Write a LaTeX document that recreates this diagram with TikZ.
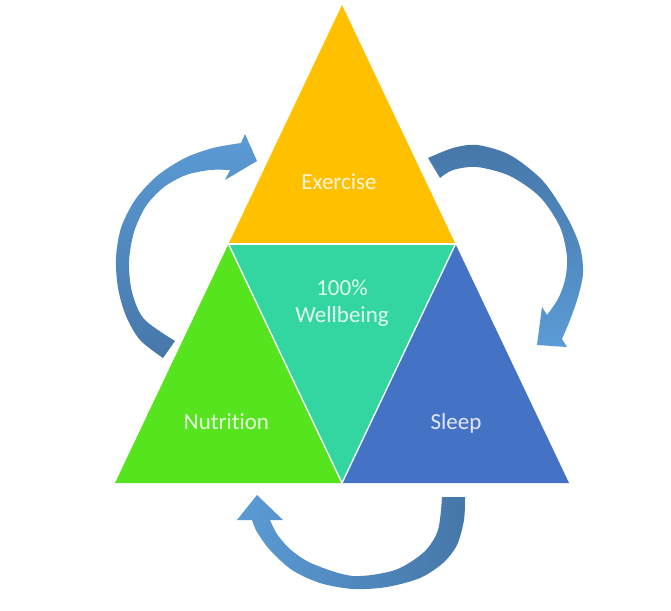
\documentclass[tikz,border=0pt]{standalone}
\usepackage{fontspec}
\setmainfont{Carlito}[Ligatures=NoCommon]
\definecolor{exo}{HTML}{FFC000}
\definecolor{nut}{HTML}{55E41E}
\definecolor{slp}{HTML}{4472C4}
\definecolor{wel}{HTML}{33D6A0}
\definecolor{arrlight}{HTML}{5B9BD5}
\definecolor{arrdark}{HTML}{4677A9}
\begin{document}
\begin{tikzpicture}[x=1pt,y=-1pt,
  lbl/.style={text=white, text opacity=0.85, font=\fontsize{23}{27}\selectfont, anchor=base, inner sep=0pt},
  sep/.style={draw=white, line width=1.3pt, line cap=round}]
\useasboundingbox (0,0) rectangle (671,610);
% vertices
\coordinate (T) at (342,5);
\coordinate (BL) at (115,483);
\coordinate (BR) at (569,483);
\coordinate (ML) at (228.5,244);
\coordinate (MR) at (455.5,244);
\coordinate (MB) at (342,483);
% triangles
\fill[exo] (T) -- (ML) -- (MR) -- cycle;
\fill[nut] (ML) -- (BL) -- (MB) -- cycle;
\fill[slp] (MR) -- (MB) -- (BR) -- cycle;
\fill[wel] (ML) -- (MR) -- (MB) -- cycle;
\draw[sep] (ML) -- (MR);
\draw[sep] (ML) -- (MB);
\draw[sep] (MR) -- (MB);
% labels
\node[lbl] (exercise) at (339,189) {Exercise};
\node[lbl] (nutrition) at (226.5,429) {Nutrition};
\node[lbl] (sleep) at (456,429) {Sleep};
\node[lbl] (well1) at (342,295) {100\%};
\node[lbl] (well2) at (342,322) {Wellbeing};
% left curved arrow
\shade[top color=arrlight, bottom color=arrdark]
  plot[smooth] coordinates {(163,358) (140,340) (126,316) (118,288) (116,258) (121,228) (135,200) (157,176) (185,158) (213,148) (241,143)}
  -- (245,134) -- (257,161) -- (225,180) -- (230,170)
  -- plot[smooth] coordinates {(230,170) (210,170) (186,175) (164,187) (146,206) (134,232) (129,262) (132,292) (144,319) (175,341)}
  -- cycle;
% right curved arrow
\shade[top color=arrdark, bottom color=arrlight]
  plot[smooth] coordinates {(428,158) (453,148) (477,145) (510,155) (543,181) (567,217) (580,247) (583,273) (578,297) (570,320) (562,339)}
  -- (567,347) -- (537,345) -- (542,307) -- (547,315)
  -- plot[smooth] coordinates {(547,315) (558,299) (565,280) (567,257) (560,227) (540,197) (510,176) (477,167) (453,170) (440,178)}
  -- cycle;
% bottom curved arrow
\shade[left color=arrlight, right color=arrdark]
  plot[smooth] coordinates {(465,497) (464,520) (457,545) (443,563) (420,578) (387,587) (353,589) (320,583) (292,570) (270,550) (257,532) (252,520)}
  -- (237,520) -- (257,495) -- (283,520) -- (270,520)
  -- plot[smooth] coordinates {(270,520) (277,534) (291,550) (313,564) (353,576) (395,570) (424,552) (438,530) (442,497)}
  -- cycle;
\end{tikzpicture}
\end{document}
